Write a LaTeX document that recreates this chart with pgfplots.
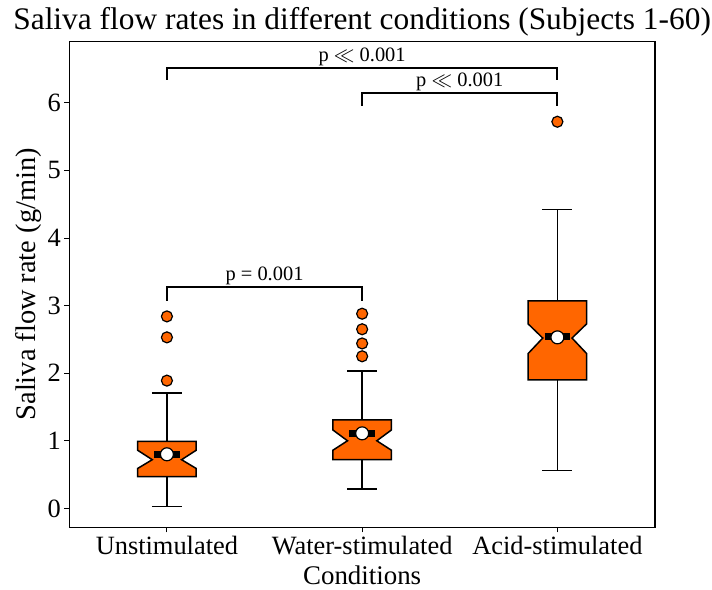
\documentclass[border=0pt]{standalone}
\usepackage{fontspec}
\setmainfont{Liberation Serif}
\usepackage{pgfplots}
\pgfplotsset{compat=1.18}
\definecolor{boxorange}{HTML}{FF6600}

\begin{document}
\begin{tikzpicture}
\begin{axis}[
    scale only axis,
    width=585.7bp, height=486bp,
    xmin=0.5, xmax=3.5,
    ymin=-0.28, ymax=6.91,
    xtick={1,2,3},
    xticklabels={Unstimulated,Water-stimulated,Acid-stimulated},
    ytick={0,1,...,6},
    tick align=outside,
    xtick pos=bottom, ytick pos=left,
    major tick length=5bp,
    tick style={black, line width=0.9bp},
    axis line style={line width=1.1bp},
    tick label style={font=\fontsize{26.5}{29}\selectfont},
    xlabel style={font=\fontsize{27}{30}\selectfont, yshift=-4.5bp},
    ylabel style={font=\fontsize{28.5}{31}\selectfont, yshift=-1bp},
    title style={font=\fontsize{31.5}{35}\selectfont, yshift=-4bp},
    title={Saliva flow rates in different conditions (Subjects 1-60)},
    xlabel={Conditions},
    ylabel={Saliva flow rate (g/min)},
    /pgf/number format/assume math mode=true,
    clip=false,
]
% notched boxes
\addplot[draw=black, fill=boxorange, line width=1.5bp] coordinates {
    (0.85,0.47) (1.15,0.47) (1.15,0.59) (1.075,0.72) (1.15,0.86) (1.15,0.99)
    (0.85,0.99) (0.85,0.86) (0.925,0.72) (0.85,0.59)} -- cycle;
\addplot[draw=black, fill=boxorange, line width=1.5bp] coordinates {
    (1.85,0.72) (2.15,0.72) (2.15,0.86) (2.075,1.00) (2.15,1.16) (2.15,1.31)
    (1.85,1.31) (1.85,1.16) (1.925,1.00) (1.85,0.86)} -- cycle;
\addplot[draw=black, fill=boxorange, line width=1.5bp] coordinates {
    (2.85,1.90) (3.15,1.90) (3.15,2.29) (3.075,2.52) (3.15,2.73) (3.15,3.07)
    (2.85,3.07) (2.85,2.73) (2.925,2.52) (2.85,2.29)} -- cycle;

% whiskers and caps
\addplot[black, line width=1.6bp] coordinates {(1,0.47) (1,0.03)};
\addplot[black, line width=1.6bp] coordinates {(1,0.99) (1,1.71)};
\addplot[black, line width=1.6bp] coordinates {(0.923,0.03) (1.077,0.03)};
\addplot[black, line width=1.6bp] coordinates {(0.923,1.71) (1.077,1.71)};
\addplot[black, line width=1.6bp] coordinates {(2,0.72) (2,0.29)};
\addplot[black, line width=1.6bp] coordinates {(2,1.31) (2,2.03)};
\addplot[black, line width=1.6bp] coordinates {(1.923,0.29) (2.077,0.29)};
\addplot[black, line width=1.6bp] coordinates {(1.923,2.03) (2.077,2.03)};
\addplot[black, line width=1.6bp] coordinates {(3,1.90) (3,0.56)};
\addplot[black, line width=1.6bp] coordinates {(3,3.07) (3,4.42)};
\addplot[black, line width=1.6bp] coordinates {(2.923,0.56) (3.077,0.56)};
\addplot[black, line width=1.6bp] coordinates {(2.923,4.42) (3.077,4.42)};

% medians
\addplot[black, line width=6.5bp] coordinates {(0.935,0.80) (1.065,0.80)};
\addplot[black, line width=6.5bp] coordinates {(1.935,1.11) (2.065,1.11)};
\addplot[black, line width=6.5bp] coordinates {(2.935,2.54) (3.065,2.54)};

% outliers
\addplot[only marks, mark=*, mark size=5.5bp,
    mark options={fill=boxorange, draw=black, line width=1.2bp}] coordinates {
    (1,1.89) (1,2.53) (1,2.84)
    (2,2.25) (2,2.44) (2,2.65) (2,2.88)
    (3,5.72)};

% means
\addplot[only marks, mark=*, mark size=6.5bp,
    mark options={fill=white, draw=black, line width=1.2bp}] coordinates {
    (1,0.80) (2,1.11) (3,2.53)};

% significance brackets
\addplot[black, line width=2bp] coordinates {(1,3.07) (1,3.28) (2,3.28) (2,3.07)};
\addplot[black, line width=2bp] coordinates {(1,6.34) (1,6.52) (3,6.52) (3,6.34)};
\addplot[black, line width=2bp] coordinates {(2,5.96) (2,6.15) (3,6.15) (3,5.96)};
\node[above, inner sep=2bp, font=\fontsize{20.5}{23}\selectfont] at (axis cs:1.5,3.28) {p = 0.001};
\node[above, inner sep=2bp, font=\fontsize{20.5}{23}\selectfont] at (axis cs:2,6.52) {p $\ll$ 0.001};
\node[above, inner sep=2bp, font=\fontsize{20.5}{23}\selectfont] at (axis cs:2.5,6.15) {p $\ll$ 0.001};
\end{axis}
\pgfresetboundingbox
\path[use as bounding box] (current axis.south west) ++(-69.3bp,-62.7bp) rectangle ++(712bp,590bp);
\end{tikzpicture}
\end{document}
